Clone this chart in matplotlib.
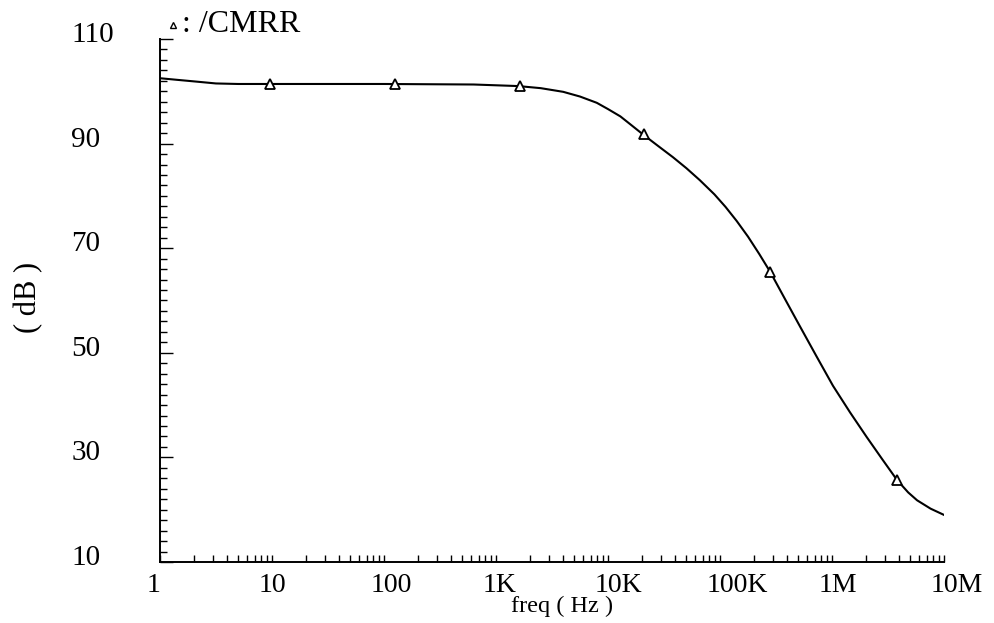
import matplotlib
matplotlib.use("Agg")
import matplotlib.pyplot as plt
import matplotlib.transforms as mtransforms
from matplotlib.ticker import FixedLocator, NullFormatter

# ---- data ----
freq_hz = [1, 1.41, 2.0, 3.16, 5.0, 10, 100, 631, 1580, 2510, 3980, 5620,
           7940, 10000, 12900, 15800, 20400, 28200, 38000, 50100, 66100,
           89100, 112000, 141000, 178000, 224000, 282000, 380000, 513000,
           724000, 1020000, 1450000, 2040000, 2820000, 3800000, 4790000,
           5750000, 7590000, 10000000]
cmrr_db = [102.5, 102.2, 101.9, 101.5, 101.4, 101.4, 101.4, 101.3, 101.0,
           100.6, 99.9, 99.0, 97.8, 96.6, 95.2, 93.7, 91.8, 89.5, 87.4,
           85.3, 83.0, 80.3, 77.9, 75.2, 72.2, 68.9, 65.4, 60.3, 55.2,
           49.4, 43.7, 38.6, 33.9, 29.6, 25.7, 23.3, 21.8, 20.2, 19.0]

marker_freq = [9.6, 125, 1640, 21000, 282000, 3800000]
marker_db = [101.4, 101.4, 101.0, 91.8, 65.4, 25.7]

x_ticks = [1, 10, 100, 1e3, 1e4, 1e5, 1e6, 1e7]
x_tick_labels = ["1", "10", "100", "1K", "10K", "100K", "1M", "10M"]
y_ticks = [10, 30, 50, 70, 90, 110]
y_tick_labels = ["10", "30", "50", "70", "90", "110"]

series_name = ": /CMRR"
x_label = "freq ( Hz )"
y_label = "( dB )"

# ---- figure ----
plt.rcParams["font.family"] = ["Liberation Serif", "DejaVu Serif"]
fig = plt.figure(figsize=(9.94, 6.23), dpi=100)
ax = fig.add_axes([160 / 994, 61 / 623, 784 / 994, 523 / 623])

ax.plot(freq_hz, cmrr_db, color="black", lw=1.5, zorder=3,
        solid_joinstyle="round")
ax.plot(marker_freq, marker_db, linestyle="none", marker="^", ms=6.5,
        mfc="white", mec="black", mew=1.3, zorder=4)

ax.set_xscale("log")
ax.set_xlim(1, 1e7)
ax.set_ylim(10, 110)

for s in ["top", "right"]:
    ax.spines[s].set_visible(False)
for s in ["left", "bottom"]:
    ax.spines[s].set_linewidth(1.4)

# x ticks
ax.xaxis.set_major_locator(FixedLocator(x_ticks))
ax.set_xticklabels(x_tick_labels)
minor_x = [m * 10 ** d for d in range(7) for m in range(2, 10)]
ax.xaxis.set_minor_locator(FixedLocator(minor_x))
ax.xaxis.set_minor_formatter(NullFormatter())
ax.tick_params(axis="x", which="both", direction="in", length=5, width=1,
               labelsize=20, pad=8)
offx = mtransforms.ScaledTranslation(-13 / 100, 0, fig.dpi_scale_trans)
for lab in ax.get_xticklabels():
    lab.set_horizontalalignment("left")
    lab.set_transform(lab.get_transform() + offx)

# y ticks
ax.yaxis.set_major_locator(FixedLocator(y_ticks))
ax.set_yticklabels(y_tick_labels)
ax.yaxis.set_minor_locator(FixedLocator(list(range(12, 110, 2))))
ax.tick_params(axis="y", which="major", direction="in", length=9, width=1,
               labelsize=21, pad=64)
ax.tick_params(axis="y", which="minor", direction="in", length=5, width=1)
offy = mtransforms.ScaledTranslation(0, 7 / 100, fig.dpi_scale_trans)
for lab in ax.get_yticklabels():
    lab.set_horizontalalignment("left")
    lab.set_transform(lab.get_transform() + offy)

# axis labels
fig.text(562 / 994, 1 - 606 / 623, x_label, ha="center", va="center",
         fontsize=17.5)
fig.text(29 / 994, 1 - 297 / 623, y_label, ha="center", va="center",
         rotation=90, fontsize=22)

# legend-like title
fig.lines.append(plt.Line2D([173 / 994], [1 - 25 / 623],
                            transform=fig.transFigure, marker="^", ms=5,
                            mfc="white", mec="black", mew=1.0,
                            linestyle="none"))
fig.text(182 / 994, 1 - 24 / 623, series_name, ha="left", va="center",
         fontsize=23)

fig.savefig("out.png", dpi=100)
